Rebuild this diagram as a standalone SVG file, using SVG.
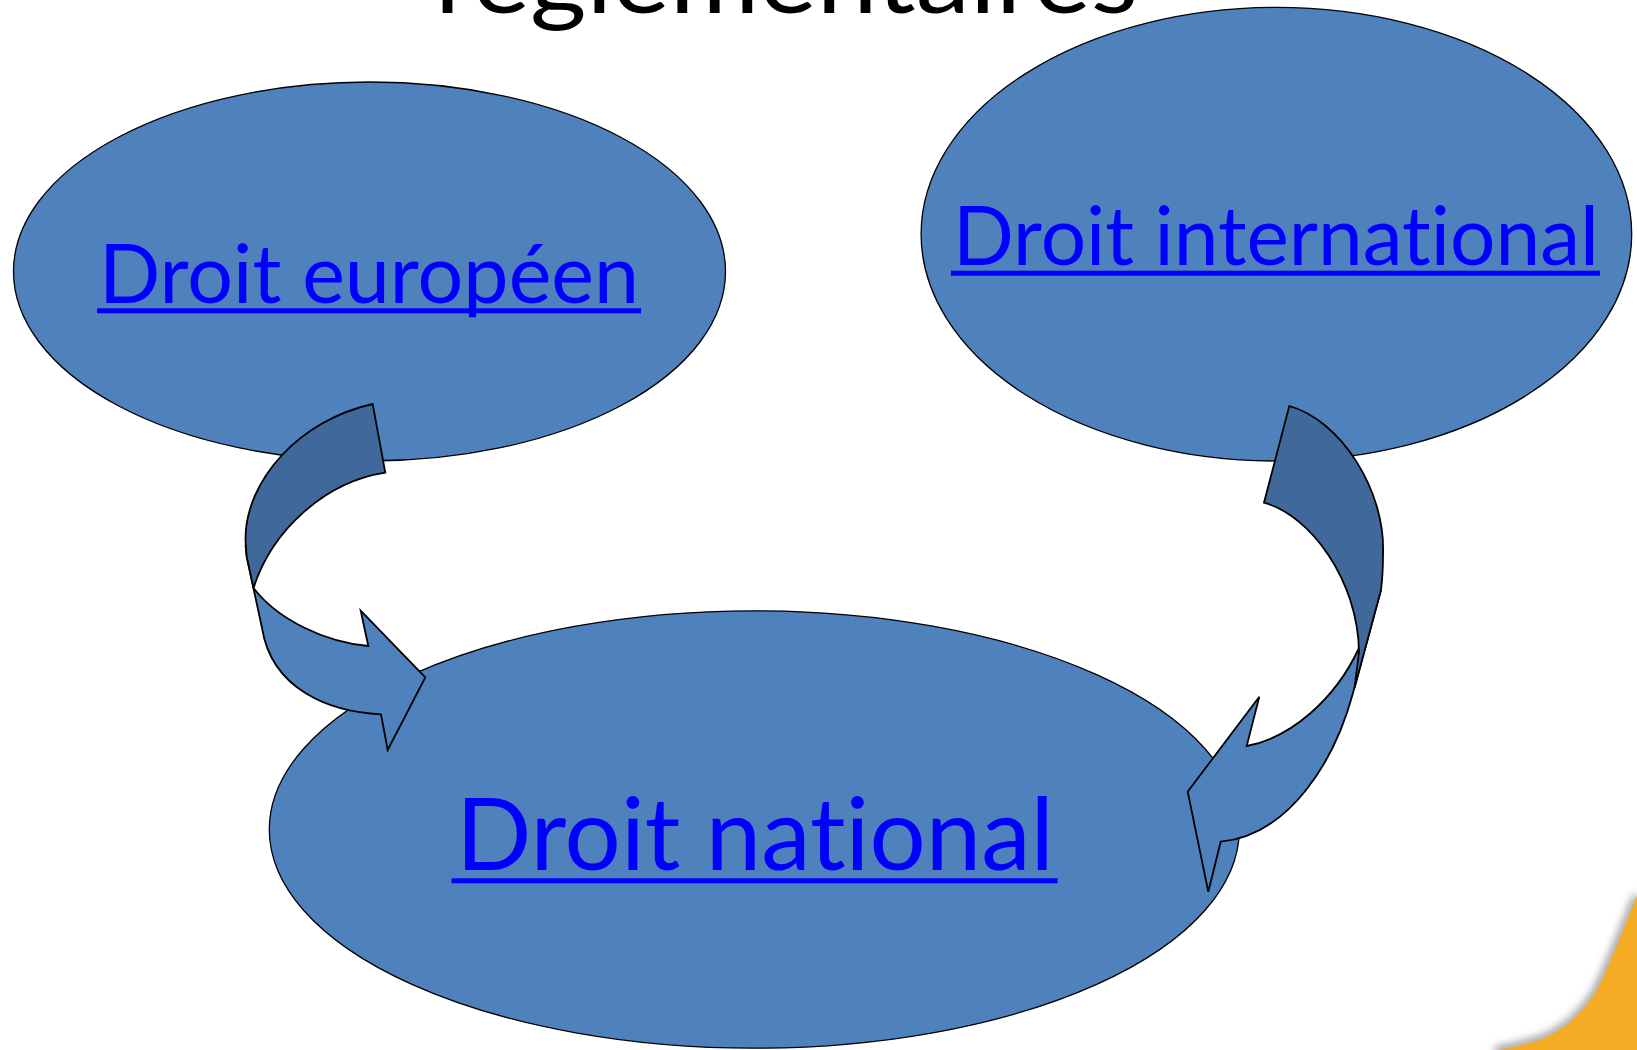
<svg xmlns="http://www.w3.org/2000/svg" width="1637" height="1050" viewBox="0 0 1637 1050">
  <defs>
    <style>
      .node { fill: #4F81BD; stroke: #000; stroke-width: 1.3; }
      .lbl { font-family: Lato, "Open Sans", "Liberation Sans", sans-serif; fill: #0000FF; font-variant-ligatures: none; font-feature-settings: "liga" 0, "clig" 0; }
      .ul { fill: #0000FF; }
      .front { fill: #4F81BD; stroke: #000; stroke-width: 1.8; stroke-linejoin: miter; }
      .back { fill: #41689A; stroke: #000; stroke-width: 1.8; stroke-linejoin: miter; }
      .title { font-family: Lato, "Open Sans", "Liberation Sans", sans-serif; font-size: 96px; fill: #000; font-variant-ligatures: none; }
    </style>
    <filter id="soft" x="-20%" y="-20%" width="140%" height="140%">
      <feGaussianBlur stdDeviation="4"/>
    </filter>
  </defs>

  <rect x="0" y="0" width="1637" height="1050" fill="#FFFFFF"/>

  <!-- decorative corner -->
  <g id="corner">
    <path d="M1637,896 C1625,925 1610,965 1597,990 C1582,1015 1560,1035 1530,1043 C1515,1047 1505,1049 1495,1051" fill="none" stroke="#8a8a8a" stroke-width="7" filter="url(#soft)"/>
    <path d="M1637,896 C1625,925 1610,965 1597,990 C1582,1015 1560,1035 1530,1043 C1515,1047 1505,1049 1495,1051 L1637,1051 Z" fill="#F5AC24"/>
  </g>

  <!-- title (cut off at top, as in the source) -->
  <text class="title" x="435" y="13" textLength="703" lengthAdjust="spacingAndGlyphs">réglementaires</text>

  <g id="node-europeen">
    <ellipse class="node" cx="369.5" cy="271.5" rx="356" ry="189.5"/>
    <text class="lbl" x="99" y="302.7" font-size="81" textLength="540" lengthAdjust="spacingAndGlyphs">Droit européen</text>
    <rect class="ul" x="97" y="308.3" width="544" height="5"/>
  </g>

  <g id="node-international">
    <ellipse class="node" cx="1276.4" cy="234.2" rx="355.3" ry="226.8"/>
    <text class="lbl" x="953" y="265" font-size="81" textLength="646" lengthAdjust="spacingAndGlyphs">Droit international</text>
    <rect class="ul" x="951" y="270.7" width="649" height="5"/>
  </g>

  <g id="node-national">
    <ellipse class="node" cx="754.3" cy="829.5" rx="485" ry="218.7"/>
    <text class="lbl" x="456" y="870" font-size="101" textLength="598" lengthAdjust="spacingAndGlyphs">Droit national</text>
    <rect class="ul" x="451.6" y="878.3" width="606" height="5"/>
  </g>

  <g id="connectors">
    <g id="arrow-europeen-national">
      <path class="front" d="M245.5,545 L246.7,556.7 L262,628 C272,690 330,712 381,714.3 L387.7,750 L425.3,677.3 L360.7,610.7 L368.3,646 C325,642 278,620 253.5,588 Z"/>
      <path class="back" d="M372.7,404 C300,420 245,480 245.5,540 L246.7,556.7 L253.5,588 C272,530 325,482 385.3,472.7 Z"/>
    </g>
    <g id="arrow-international-national">
      <path class="front" d="M1381,590 L1353,693 C1335,760 1290,835 1220.7,841.7 L1208.3,891.7 L1187.7,791.7 L1259.3,696.7 L1246.7,746 C1290,738 1335,700 1359,648 Z"/>
      <path class="back" d="M1289.3,406 C1340,420 1386,490 1383,555 C1383,570 1382,582 1381,590 L1354.5,688 L1359,652 C1358,580 1310,515 1264,502.7 Z"/>
    </g>
  </g>
</svg>
